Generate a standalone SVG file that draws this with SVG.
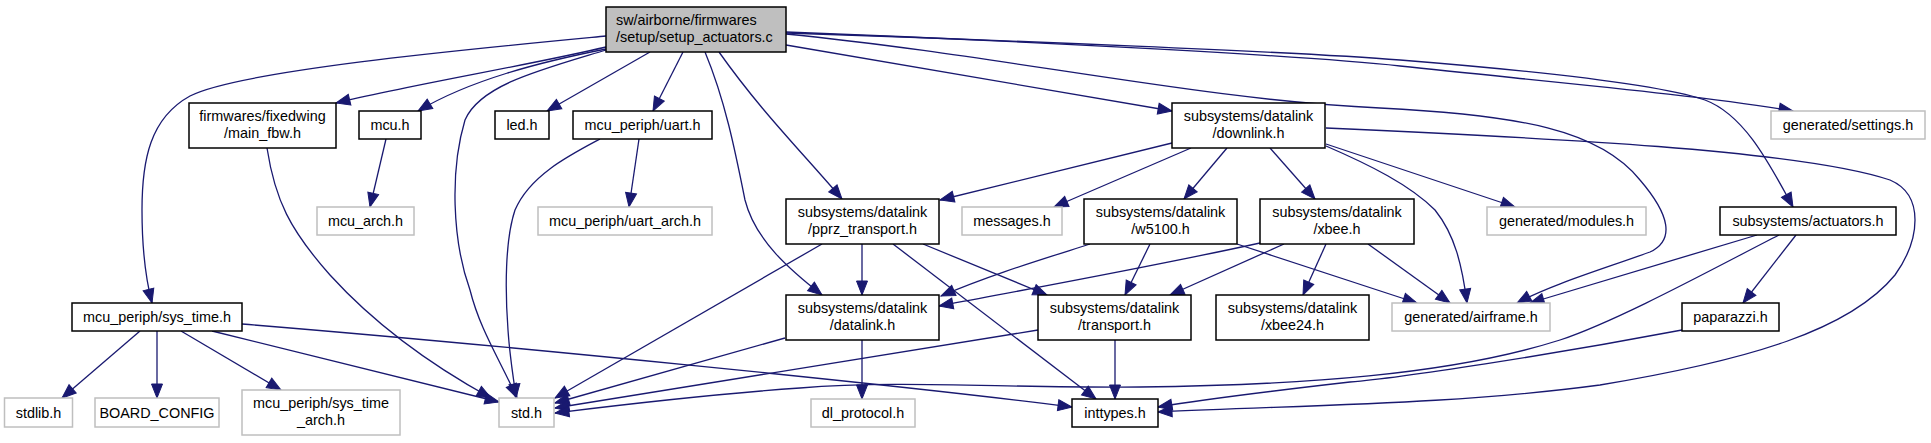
<svg xmlns="http://www.w3.org/2000/svg" width="1931" height="443" viewBox="0 0 1931 443">
<style>
.bg{fill:#ffffff}
.k rect{fill:#ffffff;stroke:#000000;stroke-width:1.5}
.g rect{fill:#ffffff;stroke:#bfbfbf;stroke-width:1.5}
.m rect{fill:#bfbfbf;stroke:#000000;stroke-width:1.5}
text{font-family:"Liberation Sans",Arial,sans-serif;font-size:14.4px;fill:#000000;text-anchor:middle}
.l{text-anchor:start}
#edges path{fill:none;stroke:#191970;stroke-width:1.3;marker-end:url(#a)}
</style>
<defs>
<marker id="a" markerUnits="userSpaceOnUse" markerWidth="15" markerHeight="11" refX="14" refY="5.5" orient="auto" overflow="visible">
<path d="M0,0 L14,5.5 L0,11 z" fill="#191970" stroke="#191970" stroke-width="1"/>
</marker>
</defs>
<rect class="bg" x="0" y="0" width="1931" height="443"/>
<g id="edges">
<path d="M606,36 C480,48 240,70 190,96 C150,118 142,160 142,210 C142,250 146,280 152,303"/>
<path d="M606,47 C530,65 410,85 336,103"/>
<path d="M606,49 C540,62 470,80 418,111"/>
<path d="M606,50 C540,70 480,85 465,120 C450,170 452,240 470,290 C480,330 500,360 517,398"/>
<path d="M650,52 L547,111"/>
<path d="M683,52 L653,111"/>
<path d="M705,52 C725,100 735,150 745,200 C755,240 790,270 822,295"/>
<path d="M719,52 C760,110 800,150 842,199"/>
<path d="M786,45 L1172,111"/>
<path d="M786,34 C1000,55 1200,100 1380,108 C1520,115 1600,130 1640,180 C1670,215 1675,240 1650,252 C1600,270 1550,285 1517,303"/>
<path d="M786,32 C1000,40 1300,55 1400,66 C1550,82 1700,95 1793,111"/>
<path d="M786,33 C1000,40 1300,52 1400,60 C1550,72 1660,85 1705,100 C1745,115 1770,165 1793,207"/>
<path d="M267,148 C275,200 290,230 330,275 C380,330 440,370 491,398"/>
<path d="M386,139 L370,207"/>
<path d="M639,139 L629,207"/>
<path d="M600,139 C570,155 530,175 515,210 C505,240 505,290 508,330 C510,360 514,380 516,398"/>
<path d="M1172,143 L940,200"/>
<path d="M1191,148 L1054,207"/>
<path d="M1227,148 L1184,199"/>
<path d="M1270,148 L1315,199"/>
<path d="M1326,144 L1515,207"/>
<path d="M1326,146 C1370,165 1410,185 1435,210 C1455,235 1462,265 1467,303"/>
<path d="M1326,128 C1550,138 1800,150 1890,180 C1925,195 1920,240 1895,275 C1850,330 1750,360 1600,385 C1450,405 1300,405 1158,412"/>
<path d="M1090,244 C1040,260 990,275 941,296"/>
<path d="M1150,244 L1125,295"/>
<path d="M1237,244 L1417,303"/>
<path d="M1260,243 C1160,265 1050,285 939,306"/>
<path d="M1284,244 L1170,295"/>
<path d="M1326,244 L1303,295"/>
<path d="M1368,244 L1450,303"/>
<path d="M822,244 L555,398"/>
<path d="M862,244 L862,295"/>
<path d="M893,244 L1096,399"/>
<path d="M923,244 L1047,295"/>
<path d="M785,338 L555,403"/>
<path d="M1038,330 L555,408"/>
<path d="M1779,235 C1720,265 1620,320 1560,340 C1450,375 1300,385 1140,387 C1000,388 900,380 800,388 C700,395 620,405 555,413"/>
<path d="M1682,330 C1550,355 1400,378 1350,382 C1280,390 1200,400 1158,407"/>
<path d="M1757,235 L1530,303"/>
<path d="M1796,235 L1743,303"/>
<path d="M862,340 L862,399"/>
<path d="M1115,340 L1115,399"/>
<path d="M140,331 L62,398"/>
<path d="M157,331 L157,398"/>
<path d="M181,331 L281,390"/>
<path d="M212,331 L499,402"/>
<path d="M242,324 C500,345 900,385 1072,407"/>
</g>
<g id="node-main" class="m"><rect x="606" y="7" width="180" height="45"/><text class="l" x="616" y="25">sw/airborne/firmwares</text><text class="l" x="616" y="42">/setup/setup_actuators.c</text></g>
<g id="node-main_fbw" class="k"><rect x="189" y="103" width="147" height="45"/><text x="262.5" y="121">firmwares/fixedwing</text><text x="262.5" y="138">/main_fbw.h</text></g>
<g id="node-mcu" class="k"><rect x="359" y="111" width="62" height="28"/><text x="390" y="130">mcu.h</text></g>
<g id="node-led" class="k"><rect x="495" y="111" width="54" height="28"/><text x="522" y="130">led.h</text></g>
<g id="node-uart" class="k"><rect x="573" y="111" width="139" height="28"/><text x="642.5" y="130">mcu_periph/uart.h</text></g>
<g id="node-downlink" class="k"><rect x="1172" y="103" width="153" height="45"/><text x="1248.5" y="121">subsystems/datalink</text><text x="1248.5" y="138">/downlink.h</text></g>
<g id="node-settings" class="g"><rect x="1771" y="111" width="154" height="28"/><text x="1848" y="130">generated/settings.h</text></g>
<g id="node-mcu_arch" class="g"><rect x="317" y="207" width="97" height="28"/><text x="365.5" y="226">mcu_arch.h</text></g>
<g id="node-uart_arch" class="g"><rect x="538" y="207" width="174" height="28"/><text x="625" y="226">mcu_periph/uart_arch.h</text></g>
<g id="node-pprz_transport" class="k"><rect x="786" y="199" width="153" height="45"/><text x="862.5" y="217">subsystems/datalink</text><text x="862.5" y="234">/pprz_transport.h</text></g>
<g id="node-messages" class="g"><rect x="962" y="207" width="100" height="28"/><text x="1012" y="226">messages.h</text></g>
<g id="node-w5100" class="k"><rect x="1084" y="199" width="153" height="45"/><text x="1160.5" y="217">subsystems/datalink</text><text x="1160.5" y="234">/w5100.h</text></g>
<g id="node-xbee" class="k"><rect x="1260" y="199" width="154" height="45"/><text x="1337" y="217">subsystems/datalink</text><text x="1337" y="234">/xbee.h</text></g>
<g id="node-modules" class="g"><rect x="1487" y="207" width="159" height="28"/><text x="1566.5" y="226">generated/modules.h</text></g>
<g id="node-actuators" class="k"><rect x="1720" y="207" width="176" height="28"/><text x="1808" y="226">subsystems/actuators.h</text></g>
<g id="node-sys_time" class="k"><rect x="72" y="303" width="170" height="28"/><text x="157" y="322">mcu_periph/sys_time.h</text></g>
<g id="node-datalink" class="k"><rect x="786" y="295" width="153" height="45"/><text x="862.5" y="313">subsystems/datalink</text><text x="862.5" y="330">/datalink.h</text></g>
<g id="node-transport" class="k"><rect x="1038" y="295" width="153" height="45"/><text x="1114.5" y="313">subsystems/datalink</text><text x="1114.5" y="330">/transport.h</text></g>
<g id="node-xbee24" class="k"><rect x="1216" y="295" width="153" height="45"/><text x="1292.5" y="313">subsystems/datalink</text><text x="1292.5" y="330">/xbee24.h</text></g>
<g id="node-airframe" class="g"><rect x="1392" y="303" width="158" height="28"/><text x="1471" y="322">generated/airframe.h</text></g>
<g id="node-paparazzi" class="k"><rect x="1682" y="303" width="97" height="28"/><text x="1730.5" y="322">paparazzi.h</text></g>
<g id="node-stdlib" class="g"><rect x="4.5" y="398" width="68" height="29"/><text x="38.5" y="418">stdlib.h</text></g>
<g id="node-board_config" class="g"><rect x="95" y="398" width="124" height="29"/><text x="157" y="418">BOARD_CONFIG</text></g>
<g id="node-sys_time_arch" class="g"><rect x="242" y="390" width="158" height="45"/><text x="321" y="408">mcu_periph/sys_time</text><text x="321" y="425">_arch.h</text></g>
<g id="node-std" class="g"><rect x="499" y="398" width="55" height="29"/><text x="526.5" y="418">std.h</text></g>
<g id="node-dl_protocol" class="g"><rect x="811" y="399" width="104" height="28"/><text x="863" y="418">dl_protocol.h</text></g>
<g id="node-inttypes" class="k"><rect x="1072" y="399" width="86" height="28"/><text x="1115" y="418">inttypes.h</text></g>
</svg>
